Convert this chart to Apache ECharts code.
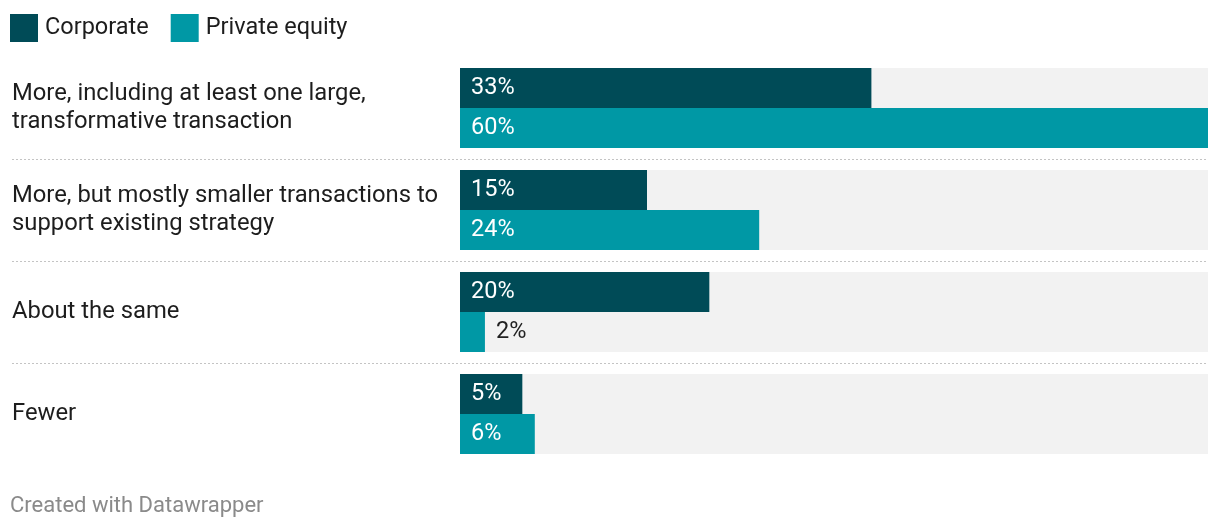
<!DOCTYPE html>
<html><head><meta charset="utf-8">
<script src="https://cdn.jsdelivr.net/npm/echarts@6/dist/echarts.min.js"></script>
<style>html,body{margin:0;padding:0;background:#fff}#c{width:1220px;height:532px}</style>
</head><body><div id="c"></div>
<script>
const categories = [
  "More, including at least one large,\ntransformative transaction",
  "More, but mostly smaller transactions to\nsupport existing strategy",
  "About the same",
  "Fewer"
];
const corporate = [33, 15, 20, 5];
const privateEquity = [60, 24, 2, 6];
const seriesNames = ["Corporate", "Private equity"];
const xMax = 60;

const FONT = 'Roboto, "Noto Sans", sans-serif';
const DARK = '#004b57', TEAL = '#0098a5';

function mkData(vals) {
  return vals.map(v => v < 4
    ? { value: v, label: { position: 'right', color: '#222', distance: 11 } }
    : { value: v });
}

const chart = echarts.init(document.getElementById('c'), null, { renderer: 'canvas' });
chart.setOption({
  animation: false,
  textStyle: { fontFamily: FONT },
  legend: {
    left: 10, top: 14, padding: 0, itemWidth: 28, itemHeight: 28, itemGap: 22, icon: 'rect',
    data: seriesNames,
    textStyle: { fontSize: 23.5, color: '#1d1d1d', fontFamily: FONT, padding: [0, 0, 0, 2] }
  },
  graphic: [{
    type: 'text', left: 10, top: 495,
    style: { text: 'Created with Datawrapper', fill: '#8a8a8a', fontSize: 22, fontFamily: FONT }
  }],
  grid: [
    { left: 12, right: 12, top: 57, height: 408 },
    { left: 460, right: 12, top: 57, height: 408 }
  ],
  xAxis: [
    { gridIndex: 0, type: 'value', min: 0, max: xMax, show: false },
    { gridIndex: 1, type: 'value', min: 0, max: xMax, show: false }
  ],
  yAxis: [
    { gridIndex: 0, type: 'category', data: categories, inverse: true,
      axisLine: { show: false }, axisTick: { show: false }, axisLabel: { show: false },
      splitLine: { show: true, showMinLine: false, showMaxLine: false,
        lineStyle: { color: '#c4c4c4', type: [2, 2], width: 1 } } },
    { gridIndex: 1, type: 'category', data: categories, inverse: true,
      axisLine: { show: false }, axisTick: { show: false }, splitLine: { show: false },
      axisLabel: { align: 'left', margin: 448, fontSize: 23.8, lineHeight: 28, color: '#1d1d1d', fontFamily: FONT } }
  ],
  series: [
    { name: seriesNames[0], type: 'bar', xAxisIndex: 1, yAxisIndex: 1, data: mkData(corporate),
      barWidth: 40, barGap: '0%', itemStyle: { color: DARK },
      showBackground: true, backgroundStyle: { color: '#f2f2f2' },
      label: { show: true, position: 'insideLeft', distance: 11, formatter: '{c}%', color: '#fff', fontSize: 23.5, fontFamily: FONT } },
    { name: seriesNames[1], type: 'bar', xAxisIndex: 1, yAxisIndex: 1, data: mkData(privateEquity),
      barWidth: 40, barGap: '0%', itemStyle: { color: TEAL },
      showBackground: true, backgroundStyle: { color: '#f2f2f2' },
      label: { show: true, position: 'insideLeft', distance: 11, formatter: '{c}%', color: '#fff', fontSize: 23.5, fontFamily: FONT } }
  ]
});
</script></body></html>
